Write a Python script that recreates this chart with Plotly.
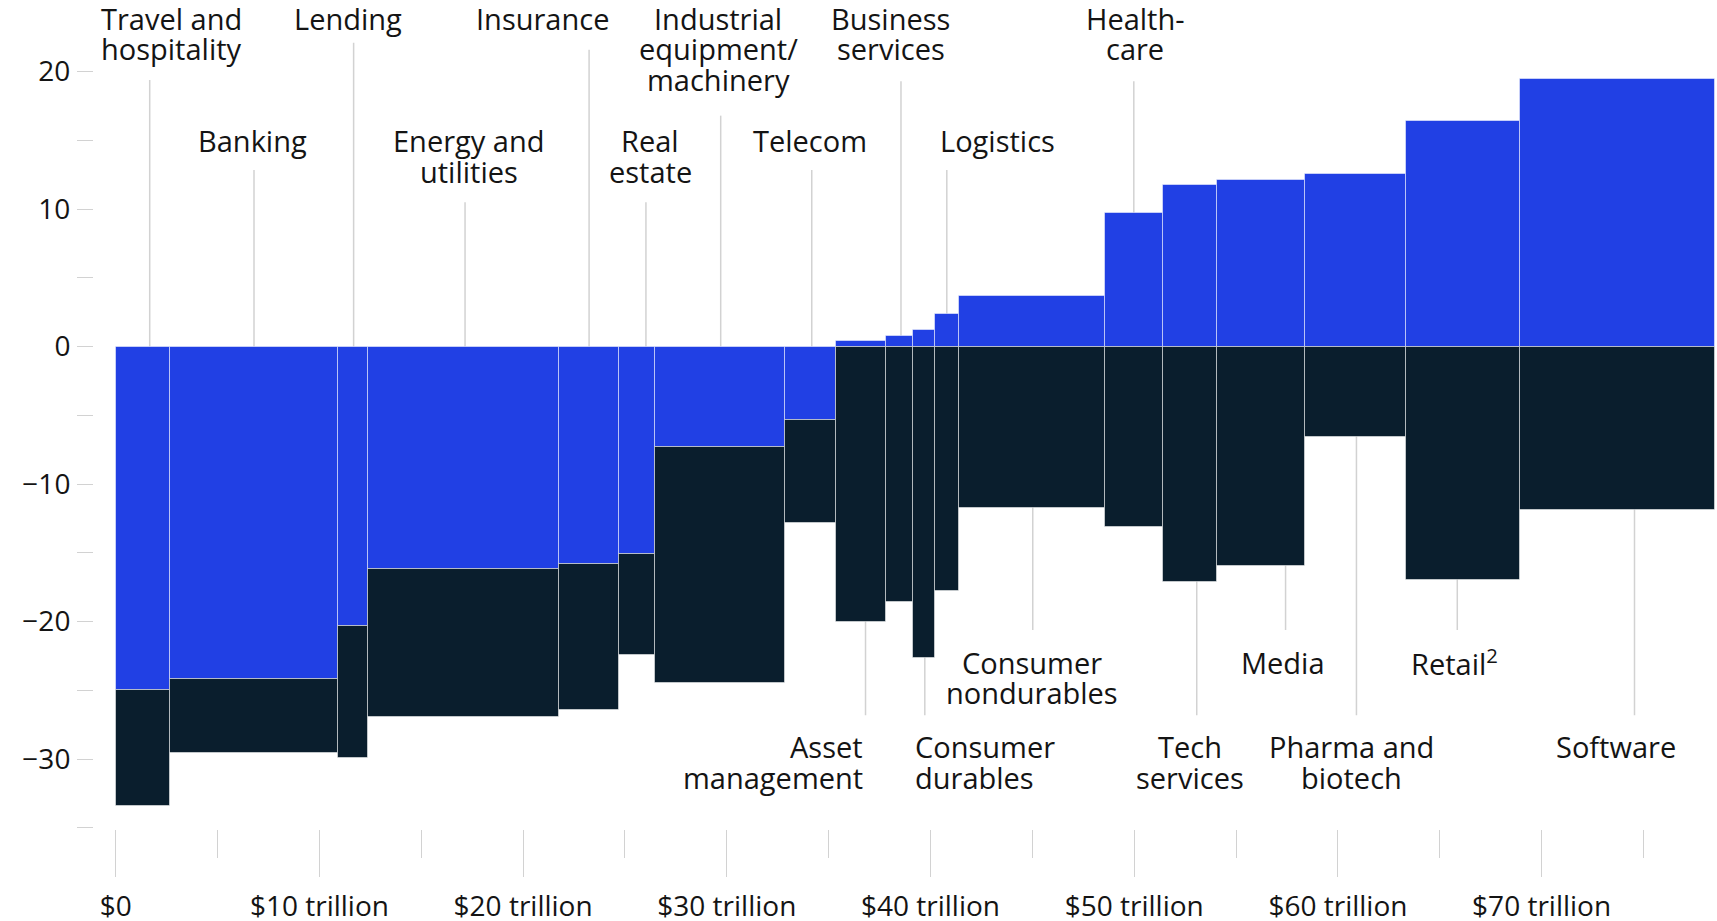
import numpy as np
import plotly.graph_objects as go

# Industries, left to right, with bar widths in $ trillion
industries = [
    "Travel and hospitality", "Banking", "Lending", "Energy and utilities",
    "Insurance", "Real estate", "Industrial equipment/machinery", "Telecom",
    "Asset management", "Business services", "Consumer durables", "Logistics",
    "Consumer nondurables", "Healthcare", "Tech services", "Media",
    "Pharma and biotech", "Retail", "Software",
]
widths = [2.67, 8.23, 1.51, 9.37, 2.91, 1.78, 6.41, 2.50, 2.45, 1.32,
          1.08, 1.18, 7.14, 2.85, 2.64, 4.34, 4.95, 5.60, 9.56]

# Upper (blue) segment and lower (dark) segment, stacked relatively
blue_values = [-25.0, -24.2, -20.3, -16.2, -15.8, -15.05, -7.3, -5.3, 0.4, 0.8,
               1.2, 2.4, 3.7, 9.75, 11.75, 12.15, 12.55, 16.4, 19.45]
dark_values = [-8.4, -5.35, -9.65, -10.7, -10.65, -7.35, -17.15, -7.55, -20.0, -18.6,
               -22.65, -17.75, -11.7, -13.1, -17.15, -15.95, -6.6, -16.95, -11.9]

# Axis ticks
y_tick_vals = [-35, -30, -25, -20, -15, -10, -5, 0, 5, 10, 15, 20]
y_tick_text = ["", "−30", "", "−20", "", "−10", "", "0", "", "10", "", "20"]
x_tick_vals = [0, 10, 20, 30, 40, 50, 60, 70]
x_tick_text = ["$0", "$10 trillion", "$20 trillion", "$30 trillion", "$40 trillion",
               "$50 trillion", "$60 trillion", "$70 trillion"]
x_minor_vals = [5, 15, 25, 35, 45, 55, 65, 75]

# Label text lines, placement and leader lines (x in $ trillion, y in axis units)
label_lines = [
    ["Travel and", "hospitality"], ["Banking"], ["Lending"], ["Energy and", "utilities"],
    ["Insurance"], ["Real", "estate"], ["Industrial", "equipment/", "machinery"], ["Telecom"],
    ["Asset", "management"], ["Business", "services"], ["Consumer", "durables"], ["Logistics"],
    ["Consumer", "nondurables"], ["Health-", "care"], ["Tech", "services"], ["Media"],
    ["Pharma and", "biotech"], ["Retail<sup>2</sup>"], ["Software"],
]
label_x = [-0.83, 6.74, 11.42, 17.32, 20.93, 26.23, 29.58, 34.08, 36.78, 38.05,
           39.15, 43.31, 44.96, 50.05, 52.74, 57.31, 60.69, 65.70, 73.65]
label_align = ["left", "center", "center", "center", "center", "center", "center", "center",
               "right", "center", "left", "center", "center", "center", "center", "center",
               "center", "center", "center"]
label_baseline = [23.18, 14.26, 23.18, 14.26, 23.18, 14.26, 23.18, 14.26, -29.78, 23.18,
                  -29.78, 14.26, -23.66, 23.18, -29.78, -23.66, -29.78, -23.66, -29.78]
leader_x = [1.67, 6.79, 11.68, 17.15, 23.24, 26.03, 29.70, 34.17, 36.81, 38.55,
            39.72, 40.80, 45.02, 49.98, 53.07, 57.43, 60.91, 65.86, 74.56]
leader_end = [19.4, 12.85, 22.1, 10.5, 21.6, 10.5, 16.8, 12.85, -26.8, 19.3,
              -26.8, 12.85, -20.6, 19.3, -26.8, -20.6, -26.8, -20.6, -26.8]

BLUE = "#2140E4"
DARK = "#0A1E2D"
TEXT = "#141414"
RULE = "#d2d2d2"
FONT = "Open Sans"
LABEL_SIZE = 29

edges = np.concatenate([[0], np.cumsum(widths)])
centers = (edges[:-1] + edges[1:]) / 2

fig = go.Figure()
outline = dict(color="rgba(255,255,255,0.5)", width=1)
fig.add_trace(go.Bar(x=centers, y=blue_values, width=widths, name="upper",
                     marker=dict(color=BLUE, line=outline), hoverinfo="skip"))
fig.add_trace(go.Bar(x=centers, y=dark_values, width=widths, name="lower",
                     marker=dict(color=DARK, line=outline), hoverinfo="skip"))

# Leader lines run from each label to the zero line, underneath the bars
for lx, ly in zip(leader_x, leader_end):
    fig.add_shape(type="line", xref="x", yref="y", x0=lx, x1=lx, y0=0, y1=ly,
                  line=dict(color=RULE, width=1.5), layer="below")

LINE_GAP = 30.5  # px between text lines
for lines, lx, align, base in zip(label_lines, label_x, label_align, label_baseline):
    for i, txt in enumerate(lines):
        fig.add_annotation(x=lx, y=base, xref="x", yref="y", text=txt, showarrow=False,
                           xanchor=align, yanchor="middle",
                           yshift=0.33 * LABEL_SIZE - LINE_GAP * i,
                           font=dict(family=FONT, size=LABEL_SIZE, color=TEXT))

fig.update_layout(
    width=1717, height=921,
    margin=dict(l=94, r=0, t=0, b=92),
    paper_bgcolor="white", plot_bgcolor="white",
    barmode="relative", bargap=0, showlegend=False,
    font=dict(family=FONT, color=TEXT),
)
fig.update_xaxes(
    range=[-1.065, 78.61], showgrid=False, zeroline=False, showline=False,
    automargin=False,
    tickvals=x_tick_vals, ticktext=x_tick_text, ticks="outside", ticklen=47,
    tickwidth=1.2, tickcolor=RULE, tickfont=dict(family=FONT, size=28, color=TEXT),
    ticklabelstandoff=5,
    minor=dict(tickvals=x_minor_vals, ticks="outside", ticklen=28, tickwidth=1.2, tickcolor=RULE),
)
fig.update_yaxes(
    range=[-35.08, 25.21], showgrid=False, zeroline=False, showline=False,
    automargin=False,
    tickvals=y_tick_vals, ticktext=y_tick_text, ticks="outside", ticklen=16,
    tickwidth=1.2, tickcolor=RULE, tickfont=dict(family=FONT, size=28, color=TEXT),
    ticklabelstandoff=1,
)

fig.write_html("out.html")
